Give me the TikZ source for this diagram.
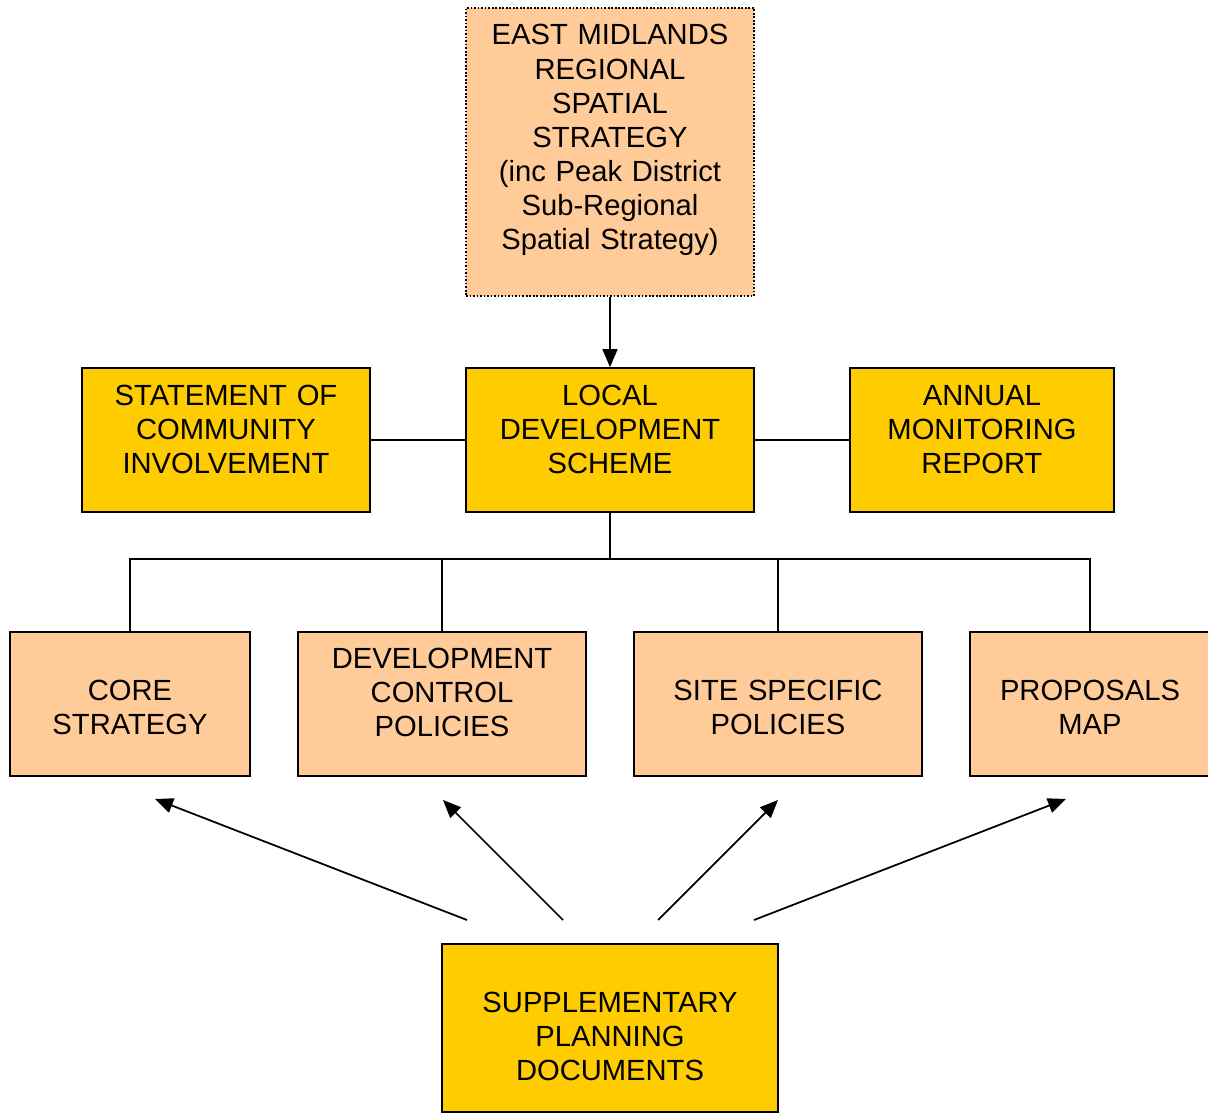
\documentclass[tikz,border=0pt]{standalone}
\usepackage{fontspec}
\setmainfont{Liberation Sans}
\usetikzlibrary{arrows.meta}
\definecolor{sand}{HTML}{FFCC99}
\definecolor{gold}{HTML}{FFCC00}

\begin{document}
\begin{tikzpicture}[
	box/.style = {draw, line width=1pt, inner sep=0pt, align=center, font=\fontsize{16.6}{19.35}\selectfont},
	wide/.style = {text width=5.76cm},
	arr/.style = {line width=1pt, -{Triangle[length=0.36cm, width=0.3cm]}}
	]
	\useasboundingbox (0,0) rectangle (24.16,-22.26);
	% regional strategy
	\node [box, wide, fill=sand, densely dotted, line width=0.7pt, text height=0.74cm, text depth=5.02cm] (emrss) at (12.2,-3.04)
		{EAST MIDLANDS\\REGIONAL\\SPATIAL\\STRATEGY\\(inc Peak District\\Sub-Regional\\Spatial Strategy)};
	% middle row
	\node [box, wide, fill=gold, text height=0.74cm, text depth=2.14cm] (lds) at (12.2,-8.8) {LOCAL\\DEVELOPMENT\\SCHEME};
	\node [box, wide, fill=gold, text height=0.74cm, text depth=2.14cm] (sci) at (4.52,-8.8) {STATEMENT OF\\COMMUNITY\\INVOLVEMENT};
	\node [box, text width=5.28cm, fill=gold, text height=0.74cm, text depth=2.14cm] (amr) at (19.64,-8.8) {ANNUAL\\MONITORING\\REPORT};
	% documents
	\node [box, text width=4.8cm, fill=sand, text height=1.36cm, text depth=1.52cm] (core) at (2.6,-14.08) {CORE\\STRATEGY};
	\node [box, wide, fill=sand, text height=0.72cm, text depth=2.16cm] (dcp) at (8.84,-14.08) {DEVELOPMENT\\CONTROL\\POLICIES};
	\node [box, wide, fill=sand, text height=1.36cm, text depth=1.52cm] (ssp) at (15.56,-14.08) {SITE SPECIFIC\\POLICIES};
	\node [box, text width=4.8cm, fill=sand, text height=1.36cm, text depth=1.52cm] (pm) at (21.8,-14.08) {PROPOSALS\\MAP};
	\node [box, text width=6.72cm, fill=gold, text height=1.36cm, text depth=2.0cm] (spd) at (12.2,-20.56) {SUPPLEMENTARY\\PLANNING\\DOCUMENTS};

	\draw [arr] (emrss.south) -- (lds.north);
	\draw [line width=1pt] (sci.east) -- (lds.west);
	\draw [line width=1pt] (lds.east) -- (amr.west);

	\coordinate (bus) at (12.2,-11.18);
	\draw [line width=1pt] (lds.south) -- (bus);
	\draw [line width=1pt] (core.north) |- (bus) -| (pm.north);
	\draw [line width=1pt] (dcp.north) -- (dcp.north |- bus);
	\draw [line width=1pt] (ssp.north) -- (ssp.north |- bus);

	% arrows up from the supplementary documents
	\coordinate (s1) at (9.34,-18.4);
	\coordinate (s2) at (11.26,-18.4);
	\coordinate (s3) at (13.16,-18.4);
	\coordinate (s4) at (15.08,-18.4);
	\coordinate (t1) at (3.1,-15.98);
	\coordinate (t2) at (8.86,-16.0);
	\coordinate (t3) at (15.56,-16.0);
	\coordinate (t4) at (21.32,-15.98);
	\foreach \i in {1,...,4}
		\draw [arr] (s\i) -- (t\i);
\end{tikzpicture}
\end{document}
